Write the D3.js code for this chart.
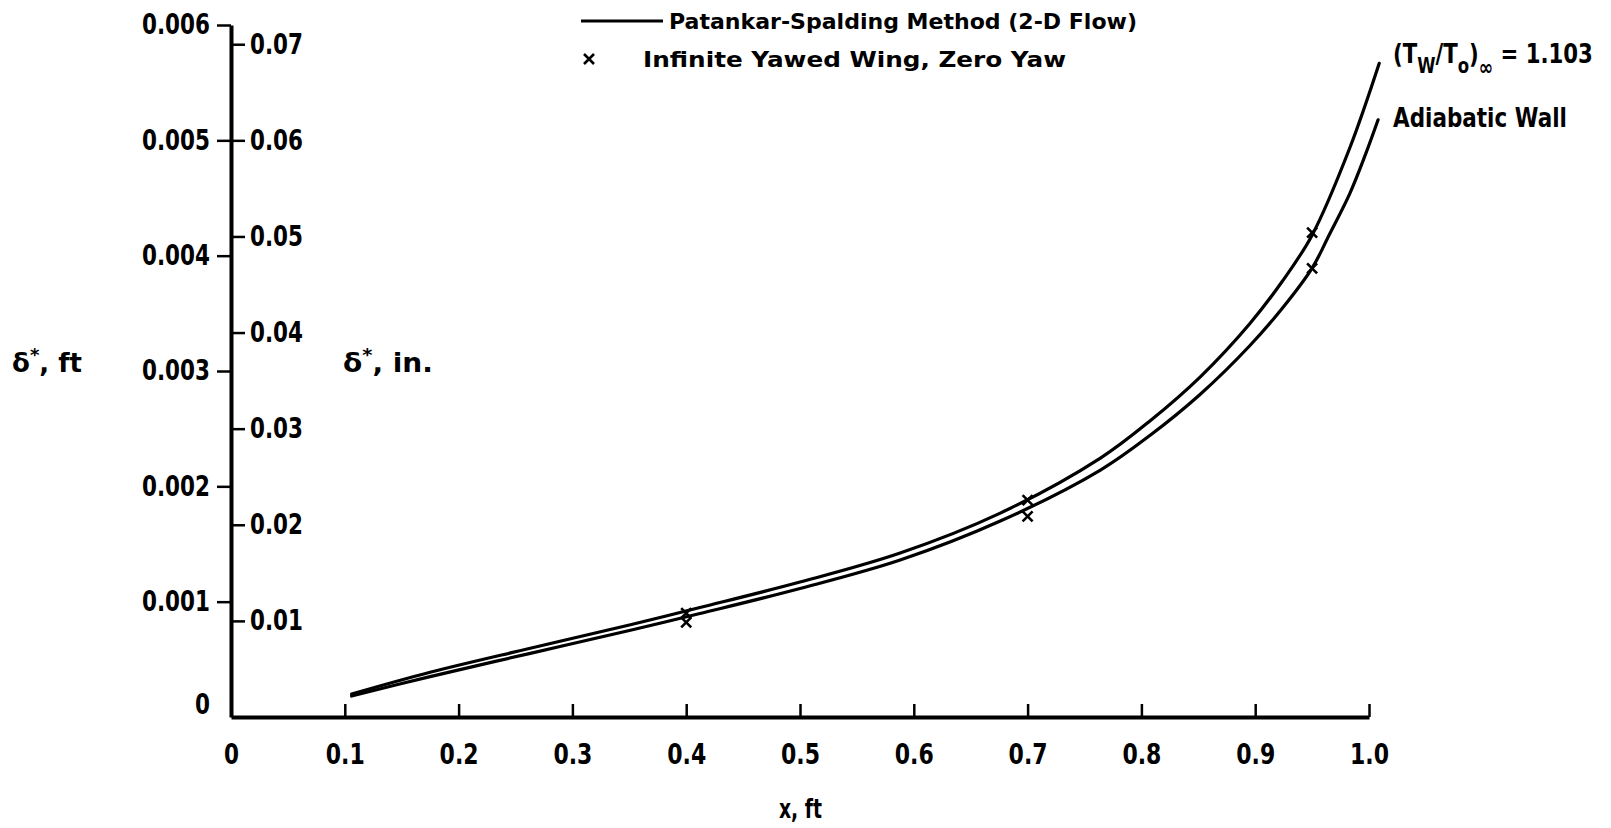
<!DOCTYPE html>
<html>
<head>
<meta charset="utf-8">
<script src="https://cdn.jsdelivr.net/npm/d3@7"></script>
<style>
  html, body { margin: 0; padding: 0; background: #fff; }
  svg { display: block; }
  text { font-family: "DejaVu Sans", "Liberation Sans", sans-serif; font-weight: bold; fill: #000; }
</style>
</head>
<body>
<svg id="chart" width="1611" height="828"></svg>
<script>
// ---- data ----
const xTickValues = [0, 0.1, 0.2, 0.3, 0.4, 0.5, 0.6, 0.7, 0.8, 0.9, 1.0];
const xTickLabels = ["0", "0.1", "0.2", "0.3", "0.4", "0.5", "0.6", "0.7", "0.8", "0.9", "1.0"];
const ftTickValues = [0, 0.001, 0.002, 0.003, 0.004, 0.005, 0.006];
const ftTickLabels = ["0", "0.001", "0.002", "0.003", "0.004", "0.005", "0.006"];
const inTickValues = [0.01, 0.02, 0.03, 0.04, 0.05, 0.06, 0.07];
const inTickLabels = ["0.01", "0.02", "0.03", "0.04", "0.05", "0.06", "0.07"];

// Patankar-Spalding, (Tw/To)inf = 1.103
const heatedX = [0.106, 0.175, 0.263, 0.351, 0.412, 0.500, 0.588, 0.676, 0.764, 0.808, 0.852, 0.895, 0.924, 0.950, 0.983, 1.009];
const heatedD = [0.000199, 0.000388, 0.000596, 0.000800, 0.000949, 0.001170, 0.001422, 0.001768, 0.002245, 0.002571, 0.002952, 0.003408, 0.003780, 0.004178, 0.004931, 0.005668];
// Patankar-Spalding, adiabatic wall
const adiabX = [0.106, 0.175, 0.263, 0.351, 0.412, 0.500, 0.588, 0.676, 0.764, 0.808, 0.852, 0.895, 0.924, 0.950, 0.965, 0.983, 0.997, 1.008];
const adiabD = [0.000182, 0.000350, 0.000552, 0.000752, 0.000897, 0.001114, 0.001361, 0.001699, 0.002141, 0.002445, 0.002801, 0.003217, 0.003546, 0.003892, 0.004180, 0.004536, 0.004880, 0.005178];
// Infinite yawed wing, zero yaw
const yawX = [0.40, 0.70, 0.95, 0.40, 0.70, 0.95];
const yawD = [0.00090, 0.00188, 0.00420, 0.00082, 0.00174, 0.00389];

const legendLabels = ["Patankar-Spalding Method (2-D Flow)", "Infinite Yawed Wing, Zero Yaw"];

// ---- scales ----
const svg = d3.select("#chart");
svg.append("rect").attr("width", 1611).attr("height", 828).attr("fill", "#fff");

const x = d3.scaleLinear().domain([0, 1]).range([231, 1369]);
const yFt = d3.scaleLinear().domain([0, 0.006]).range([717, 25]);
const yIn = d3.scaleLinear().domain([0, 0.072]).range([717, 25]);

// ---- axes ----
const xAxis = svg.append("g").attr("transform", "translate(0,717)")
  .call(d3.axisBottom(x).tickValues(xTickValues).tickSize(-13).tickSizeOuter(0).tickPadding(27)
    .tickFormat((d, i) => xTickLabels[i]));
xAxis.select(".domain").attr("stroke", "#000").attr("stroke-width", 4);
xAxis.selectAll(".tick line").attr("stroke", "#000").attr("stroke-width", 2.5)
  .filter(d => d === 0).remove();
xAxis.selectAll(".tick text").attr("font-size", 28)
  .attr("textLength", d => d === 0 ? 15 : 39).attr("lengthAdjust", "spacingAndGlyphs");

const yAxisL = svg.append("g").attr("transform", "translate(231,0)")
  .call(d3.axisLeft(yFt).tickValues(ftTickValues).tickSize(14).tickSizeOuter(0).tickPadding(7)
    .tickFormat((d, i) => ftTickLabels[i]));
yAxisL.select(".domain").attr("stroke", "#000").attr("stroke-width", 4);
yAxisL.selectAll(".tick line").attr("stroke", "#000").attr("stroke-width", 2.5)
  .filter(d => d === 0).remove();
yAxisL.selectAll(".tick text").attr("font-size", 28)
  .attr("textLength", d => d === 0 ? 15 : 68).attr("lengthAdjust", "spacingAndGlyphs")
  .attr("y", d => d === 0 ? -12 : 0);

const yAxisR = svg.append("g").attr("transform", "translate(231,0)")
  .call(d3.axisRight(yIn).tickValues(inTickValues).tickSize(14).tickSizeOuter(0).tickPadding(5)
    .tickFormat((d, i) => inTickLabels[i]));
yAxisR.select(".domain").remove();
yAxisR.selectAll(".tick line").attr("stroke", "#000").attr("stroke-width", 2.5);
yAxisR.selectAll(".tick text").attr("font-size", 28)
  .attr("textLength", 53).attr("lengthAdjust", "spacingAndGlyphs");

// helper: squeeze a text horizontally to a target width
function squeeze(sel, x0, y0, w) {
  const bb = sel.node().getBBox();
  const s = w / bb.width;
  sel.attr("transform", `translate(${x0},${y0}) scale(${s},1)`);
}

// ---- axis titles ----
const t1 = svg.append("text").attr("font-size", 26);
t1.append("tspan").text("δ");
t1.append("tspan").attr("dy", -11).attr("font-size", 18).text("*");
t1.append("tspan").attr("dy", 11).text(",  ft");
squeeze(t1, 12, 372, 70);

const t2 = svg.append("text").attr("font-size", 26);
t2.append("tspan").text("δ");
t2.append("tspan").attr("dy", -11).attr("font-size", 18).text("*");
t2.append("tspan").attr("dy", 11).text(",  in.");
squeeze(t2, 343, 372, 90);

const t3 = svg.append("text").attr("font-size", 26).text("x,  ft");
squeeze(t3, 779, 818, 43);

// ---- curves ----
const line = d3.line().x(d => x(d[0])).y(d => yFt(d[1])).curve(d3.curveCatmullRom.alpha(0.5));
const heated = heatedX.map((v, i) => [v, heatedD[i]]);
const adiab = adiabX.map((v, i) => [v, adiabD[i]]);
[heated, adiab].forEach(s => {
  svg.append("path").datum(s).attr("d", line)
    .attr("fill", "none").attr("stroke", "#000").attr("stroke-width", 3.2)
    .attr("stroke-linecap", "round");
});

// ---- markers ----
const cross = "M-5,-5L5,5M-5,5L5,-5";
svg.append("g").selectAll("path").data(yawX.map((v, i) => [v, yawD[i]])).join("path")
  .attr("transform", d => `translate(${x(d[0])},${yFt(d[1])})`)
  .attr("d", cross).attr("stroke", "#000").attr("stroke-width", 2.6).attr("fill", "none");

// ---- legend ----
svg.append("line").attr("x1", 581).attr("x2", 663).attr("y1", 21).attr("y2", 21)
  .attr("stroke", "#000").attr("stroke-width", 3);
svg.append("text").attr("x", 669).attr("y", 29).attr("font-size", 21)
  .attr("textLength", 468).attr("lengthAdjust", "spacingAndGlyphs").text(legendLabels[0]);
svg.append("path").attr("transform", "translate(589,59)").attr("d", "M-5,-5L5,5M-5,5L5,-5")
  .attr("stroke", "#000").attr("stroke-width", 2.6);
svg.append("text").attr("x", 643).attr("y", 67).attr("font-size", 21)
  .attr("textLength", 423).attr("lengthAdjust", "spacingAndGlyphs").text(legendLabels[1]);

// ---- annotations ----
const a1 = svg.append("text").attr("font-size", 27);
a1.append("tspan").text("(T");
a1.append("tspan").attr("dy", 10).attr("font-size", 21).text("W");
a1.append("tspan").attr("dy", -10).text("/T");
a1.append("tspan").attr("dy", 10).attr("font-size", 21).text("o");
a1.append("tspan").attr("dy", -10).text(")");
a1.append("tspan").attr("dy", 12).attr("font-size", 22).text("∞");
a1.append("tspan").attr("dy", -12).text(" = 1.103");
squeeze(a1, 1393, 63, 200);

const a2 = svg.append("text").attr("font-size", 27).text("Adiabatic Wall");
squeeze(a2, 1393, 127, 174);
</script>
</body>
</html>
